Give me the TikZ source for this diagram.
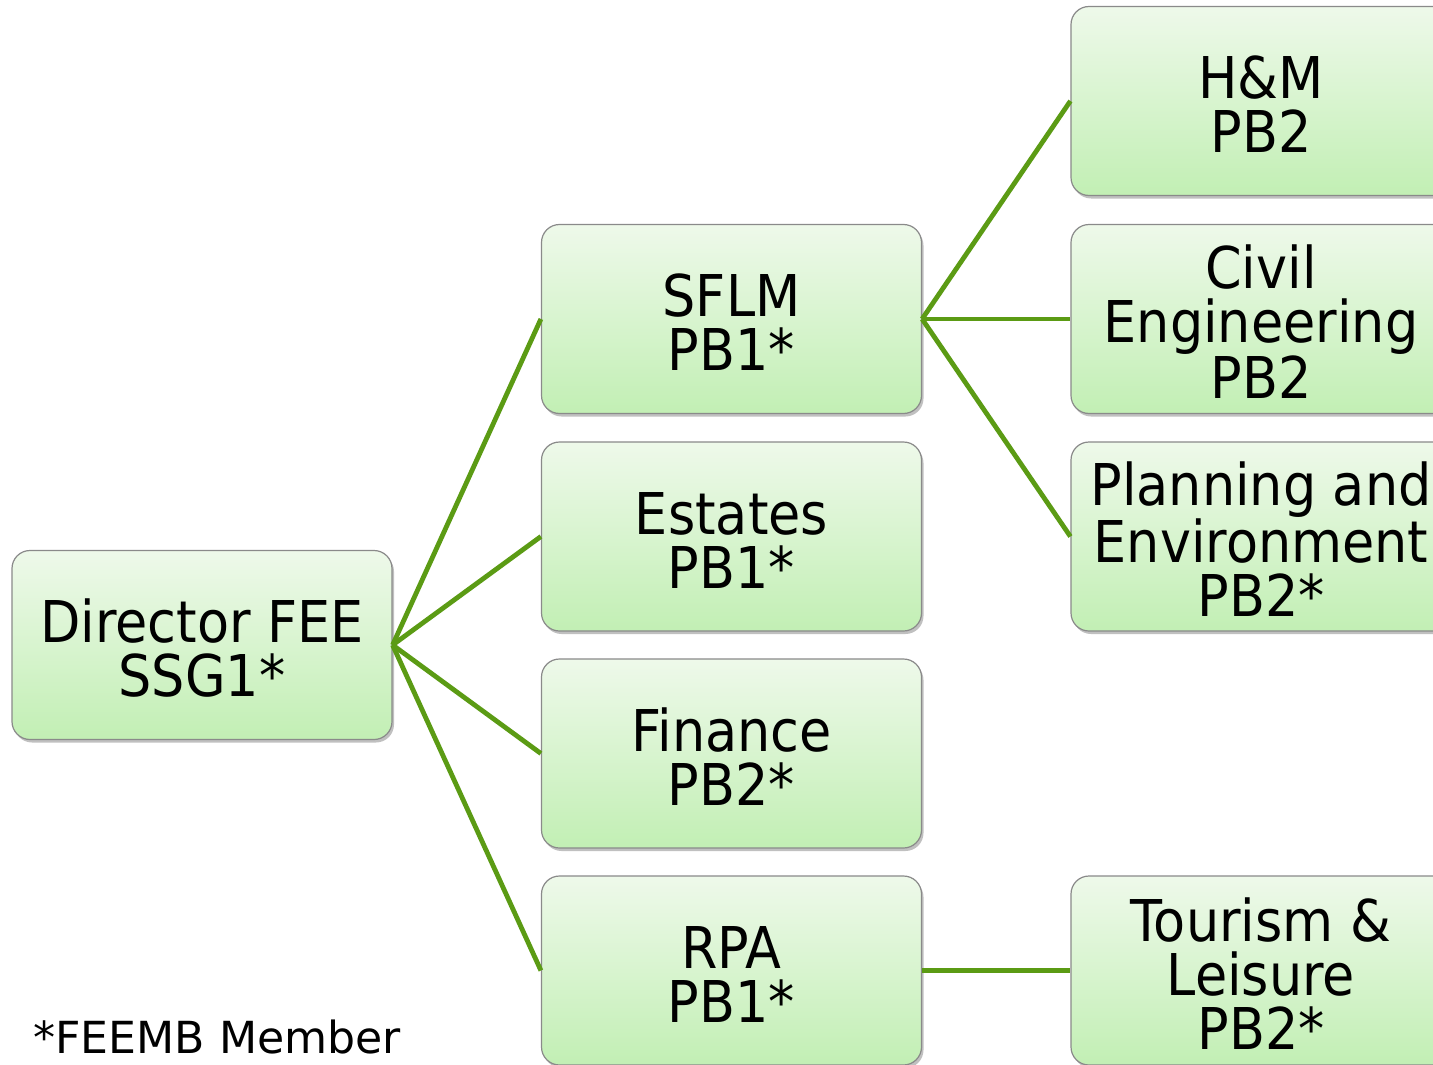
\documentclass[tikz,border=0pt]{standalone}
\usepackage{fontspec}
\setmainfont{DejaVu Sans}
\newfontfamily\boxfont{DejaVu Sans}[FakeStretch=0.91]
\usetikzlibrary{shadows}
\definecolor{boxtop}{HTML}{EEF9EA}
\definecolor{boxbottom}{HTML}{C2EFB4}
\definecolor{boxedge}{HTML}{8A8A8A}
\definecolor{linkgreen}{HTML}{5B9B14}
% extra head room on the first line so the text sits a little low in its box
\newcommand\headroom{\rule{0pt}{49pt}}
\tikzset{
  unit/.style={rectangle, rounded corners=18pt, draw=boxedge, line width=1.2pt,
    top color=boxtop, bottom color=boxbottom,
    minimum width=380pt, minimum height=189pt, inner sep=0pt,
    align=center, font=\boxfont\fontsize{57.6}{54}\selectfont,
    drop shadow={shadow xshift=2pt, shadow yshift=-3pt, opacity=0.35, fill=black!70}},
  link/.style={draw=linkgreen, line width=4.8pt}
}
\begin{document}
\begin{tikzpicture}[x=1pt, y=-1pt]
\useasboundingbox (0,0) rectangle (1433,1065);
\clip (0,0) rectangle (1433,1065);
\fill[white] (0,0) rectangle (1433,1065);

% root
\node[unit] (dir) at (202,645) {\headroom Director FEE\\SSG1*};

% second level
\node[unit] (sflm) at (731.5,319) {\headroom SFLM\\PB1*};
\node[unit] (est)  at (731.5,536.5) {\headroom Estates\\PB1*};
\node[unit] (fin)  at (731.5,753.5) {\headroom Finance\\PB2*};
\node[unit] (rpa)  at (731.5,970.5) {\headroom RPA\\PB1*};

% third level
\node[unit] (hm)   at (1261,101) {\headroom H\&M\\PB2};
\node[unit] (civ)  at (1261,319) {\headroom Civil\\Engineering\\PB2};
\node[unit] (plan) at (1261,536.5) {\headroom Planning and\\Environment\\PB2*};
\node[unit] (tour) at (1261,970.5) {\headroom Tourism \&\\Leisure\\PB2*};

% connectors
\foreach \t in {sflm,est,fin,rpa} \draw[link] (dir.east) -- (\t.west);
\foreach \t in {hm,civ,plan} \draw[link] (sflm.east) -- (\t.west);
\draw[link] (rpa.east) -- (tour.west);

% footnote
\node[anchor=base west, inner sep=0pt, font=\fontsize{44.2}{48}\selectfont] (note) at (33,1053) {*FEEMB Member};
\end{tikzpicture}
\end{document}
